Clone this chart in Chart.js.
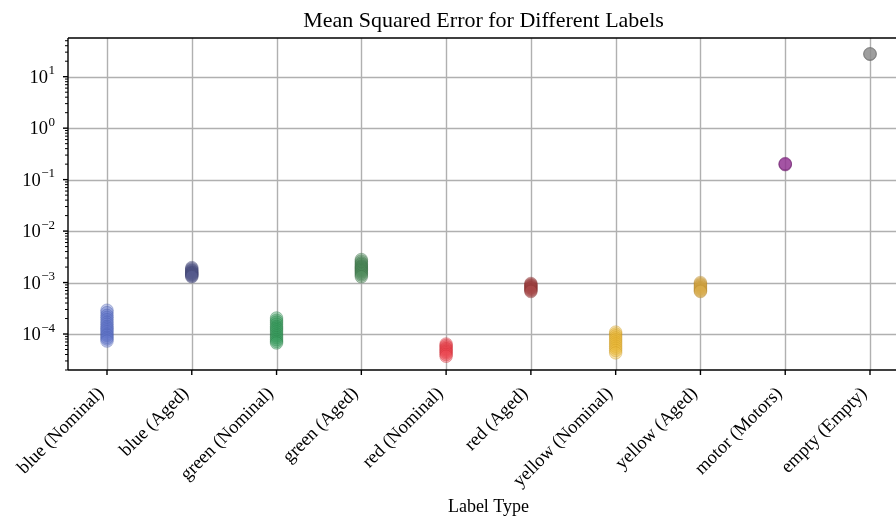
<!DOCTYPE html>
<html>
<head>
<meta charset="utf-8">
<script src="https://cdn.jsdelivr.net/npm/chart.js@4/dist/chart.umd.min.js"></script>
<style>
  html, body { margin: 0; padding: 0; background: #fff; overflow: hidden; }
  #wrap { width: 940px; height: 520px; }
</style>
</head>
<body>
<div id="wrap"><canvas id="c" width="940" height="520"></canvas></div>
<script>
// Category labels along the x axis
const categories = [
  'blue (Nominal)', 'blue (Aged)', 'green (Nominal)', 'green (Aged)',
  'red (Nominal)', 'red (Aged)', 'yellow (Nominal)', 'yellow (Aged)',
  'motor (Motors)', 'empty (Empty)'
];

// Mean squared error samples per label type
const blueNominal = [2.9e-4, 2.6e-4, 2.3e-4, 2.1e-4, 1.9e-4, 1.7e-4, 1.55e-4, 1.4e-4, 1.3e-4, 1.2e-4, 1.1e-4, 1.0e-4, 9.4e-5, 8.6e-5, 8.0e-5, 7.3e-5];
const blueAged = [1.95e-3, 1.85e-3, 1.75e-3, 1.68e-3, 1.6e-3, 1.55e-3, 1.5e-3, 1.45e-3, 1.4e-3, 1.35e-3, 1.3e-3];
const greenNominal = [2.05e-4, 1.85e-4, 1.7e-4, 1.55e-4, 1.4e-4, 1.3e-4, 1.2e-4, 1.1e-4, 1.0e-4, 9.2e-5, 8.5e-5, 7.8e-5, 7.2e-5, 6.7e-5];
const greenAged = [2.8e-3, 2.6e-3, 2.4e-3, 2.25e-3, 2.1e-3, 2.0e-3, 1.9e-3, 1.8e-3, 1.7e-3, 1.6e-3, 1.5e-3, 1.4e-3, 1.3e-3];
const redNominal = [6.4e-5, 6.0e-5, 5.6e-5, 5.2e-5, 4.9e-5, 4.6e-5, 4.3e-5, 4.0e-5, 3.7e-5];
const redAged = [9.6e-4, 9.2e-4, 8.8e-4, 8.4e-4, 8.0e-4, 7.7e-4, 7.3e-4, 7.0e-4, 6.7e-4];
const yellowNominal = [1.09e-4, 1.0e-4, 9.2e-5, 8.4e-5, 7.7e-5, 7.0e-5, 6.4e-5, 5.8e-5, 5.3e-5, 4.8e-5, 4.3e-5];
const yellowAged = [1.0e-3, 9.5e-4, 9.0e-4, 8.5e-4, 8.0e-4, 7.6e-4, 7.2e-4, 6.9e-4, 6.7e-4];
const motor = [0.195, 0.2, 0.205];
const empty = [27.2, 27.6, 28.0];

const seriesValues = [blueNominal, blueAged, greenNominal, greenAged, redNominal, redAged, yellowNominal, yellowAged, motor, empty];

// Decade tick exponents on the log axis
const yTickExponents = [-4, -3, -2, -1, 0, 1];

const fills = [
  'rgba(96,116,200,0.4)', 'rgba(86,90,140,0.4)', 'rgba(56,156,92,0.4)', 'rgba(80,140,92,0.4)',
  'rgba(236,70,80,0.4)', 'rgba(166,70,70,0.4)', 'rgba(232,182,52,0.4)', 'rgba(216,170,72,0.4)',
  'rgba(146,50,146,0.45)', 'rgba(140,140,140,0.45)'
];
const edges = [
  'rgba(70,88,170,0.35)', 'rgba(60,62,110,0.35)', 'rgba(36,120,66,0.35)', 'rgba(50,100,60,0.35)',
  'rgba(200,40,50,0.35)', 'rgba(130,44,44,0.35)', 'rgba(200,150,30,0.35)', 'rgba(180,136,44,0.35)',
  'rgba(104,30,104,0.4)', 'rgba(104,104,104,0.4)'
];

const datasets = seriesValues.map((vals, i) => ({
  label: categories[i],
  data: vals.map(v => ({ x: i, y: v })),
  backgroundColor: fills[i],
  borderColor: edges[i],
  borderWidth: 1,
  pointRadius: 6.3,
  pointHoverRadius: 6.3
}));

const SERIF = '"Liberation Serif", "DejaVu Serif", serif';
const GRID = '#b0b0b0';

const axesPlugin = {
  id: 'mplAxes',
  beforeDatasetsDraw(chart) {
    const { ctx, chartArea: a, scales: { x, y } } = chart;
    ctx.save();
    ctx.strokeStyle = GRID;
    ctx.lineWidth = 1.4;
    categories.forEach((_, i) => {
      const px = Math.round(x.getPixelForValue(i)) + 0.5;
      ctx.beginPath(); ctx.moveTo(px, a.top); ctx.lineTo(px, a.bottom); ctx.stroke();
    });
    yTickExponents.forEach(e => {
      const py = Math.round(y.getPixelForValue(Math.pow(10, e))) + 0.5;
      ctx.beginPath(); ctx.moveTo(a.left, py); ctx.lineTo(a.right, py); ctx.stroke();
    });
    ctx.restore();
  },
  afterDatasetsDraw(chart) {
    const { ctx, chartArea: a, scales: { x, y } } = chart;
    ctx.save();
    // spines
    ctx.strokeStyle = '#000';
    ctx.lineWidth = 1.4;
    ctx.beginPath();
    ctx.moveTo(a.left, a.top); ctx.lineTo(a.right, a.top);
    ctx.moveTo(a.left, a.top); ctx.lineTo(a.left, a.bottom);
    ctx.moveTo(a.left, a.bottom); ctx.lineTo(a.right, a.bottom);
    ctx.stroke();

    // y ticks: majors at decades, minors at 2..9 x 10^n
    for (let e = -5; e <= 1; e++) {
      for (let m = 1; m <= 9; m++) {
        const v = m * Math.pow(10, e);
        if (v < y.min || v > y.max) continue;
        const py = y.getPixelForValue(v);
        const major = m === 1;
        ctx.lineWidth = major ? 1.4 : 1.0;
        ctx.beginPath();
        ctx.moveTo(a.left, py);
        ctx.lineTo(a.left - (major ? 5 : 3), py);
        ctx.stroke();
      }
    }
    // x ticks
    ctx.lineWidth = 1.4;
    categories.forEach((_, i) => {
      const px = x.getPixelForValue(i);
      ctx.beginPath(); ctx.moveTo(px, a.bottom); ctx.lineTo(px, a.bottom + 5); ctx.stroke();
    });

    // y tick labels: 10 with superscript exponent
    ctx.fillStyle = '#000';
    ctx.textBaseline = 'alphabetic';
    yTickExponents.forEach(e => {
      const py = y.getPixelForValue(Math.pow(10, e));
      const exp = e < 0 ? '\u2212' + (-e) : String(e);
      ctx.font = '13px ' + SERIF;
      const ew = ctx.measureText(exp).width;
      const right = 55;
      ctx.textAlign = 'left';
      ctx.fillText(exp, right - ew, py - 2.5);
      ctx.font = '18.5px ' + SERIF;
      ctx.textAlign = 'right';
      ctx.fillText('10', right - ew - 0.5, py + 6);
    });

    // rotated category labels
    const fs = 18.5;
    ctx.font = fs + 'px ' + SERIF;
    ctx.textAlign = 'right';
    ctx.textBaseline = 'alphabetic';
    const asc = 0.70 * fs, desc = 0.22 * fs, k = Math.SQRT1_2;
    categories.forEach((lab, i) => {
      const px = x.getPixelForValue(i);
      const ax = px - k * desc + 0.5;
      const ay = a.bottom + 15 + k * asc;
      ctx.save();
      ctx.translate(ax, ay);
      ctx.rotate(-Math.PI / 4);
      ctx.fillText(lab, 0, 0);
      ctx.restore();
    });

    // axis title and chart title
    const cx = (a.left + a.right) / 2;
    ctx.textAlign = 'center';
    ctx.font = '18px ' + SERIF;
    ctx.fillText('Label Type', cx, 512);
    ctx.font = '22px ' + SERIF;
    ctx.fillText('Mean Squared Error for Different Labels', cx - 5, 27);
    ctx.restore();
  }
};

new Chart(document.getElementById('c'), {
  type: 'scatter',
  data: { datasets },
  options: {
    responsive: false,
    animation: false,
    devicePixelRatio: 1,
    layout: { padding: { left: 68, top: 38, right: 31, bottom: 150 } },
    plugins: { legend: { display: false }, title: { display: false }, tooltip: { enabled: false } },
    scales: {
      x: { type: 'linear', min: -0.46, max: 9.46, display: false },
      y: { type: 'logarithmic', min: 2.0e-5, max: 56.5, display: false }
    }
  },
  plugins: [axesPlugin]
});
</script>
</body>
</html>
